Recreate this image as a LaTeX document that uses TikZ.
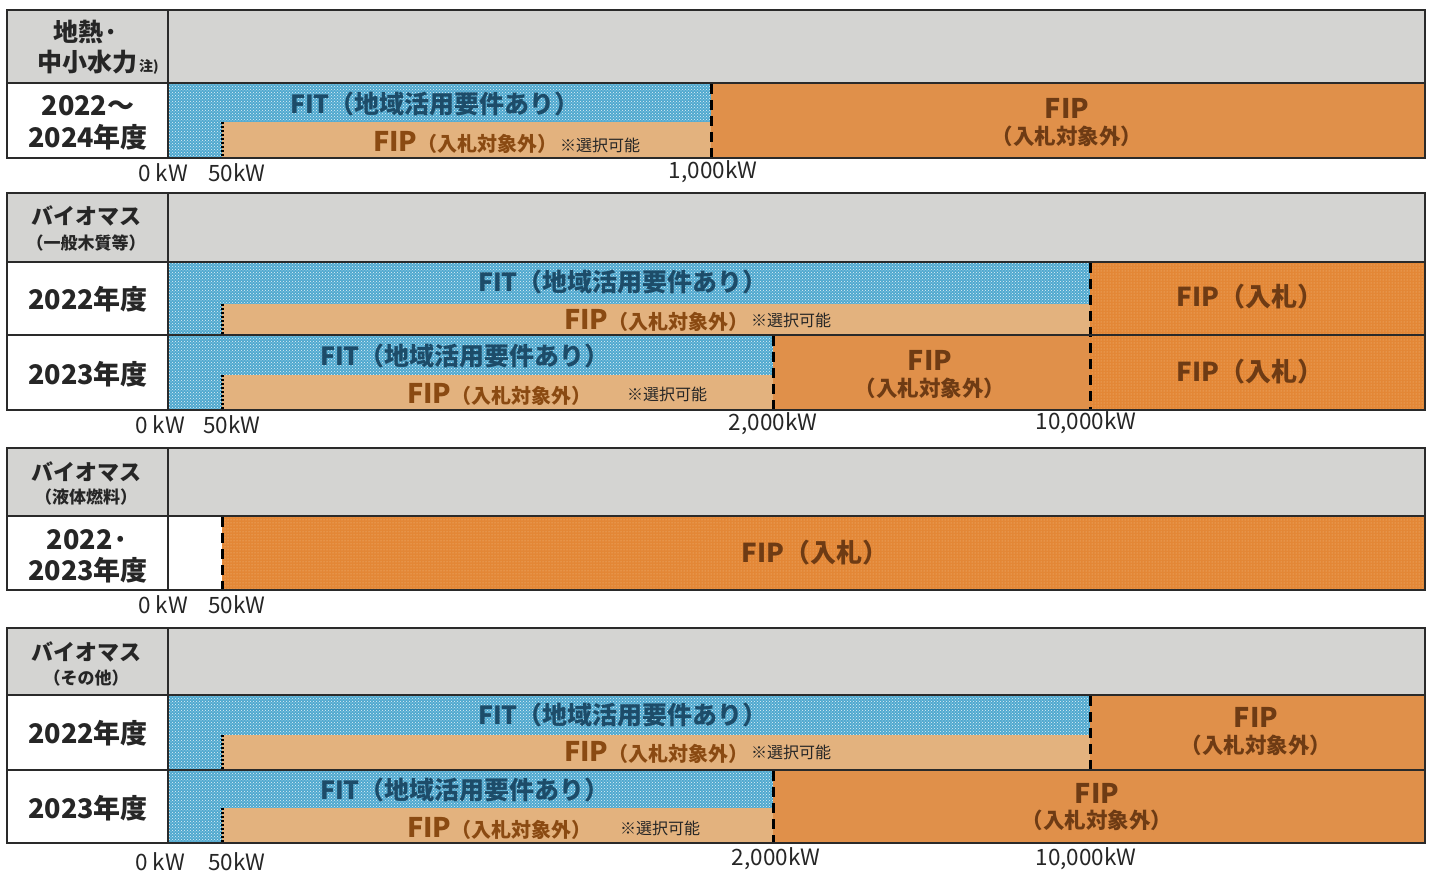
\documentclass[tikz,border=0pt]{standalone}
\usepackage{fontspec}
\newfontfamily\jp{Noto Sans CJK JP}
\usetikzlibrary{patterns}
\definecolor{grayc}{HTML}{D4D4D2}
\definecolor{bluec}{HTML}{4FA8CF}
\definecolor{tanc}{HTML}{E3B27E}
\definecolor{orangec}{HTML}{E0904A}
\definecolor{bidc}{HTML}{E38736}
\definecolor{dotc}{HTML}{F2C08C}
\definecolor{linec}{HTML}{2A2A2A}
\definecolor{fittext}{HTML}{1D4C69}
\definecolor{fiptext}{HTML}{8A4A12}
\definecolor{fipdark}{HTML}{6E3B14}
\definecolor{lbltext}{HTML}{262626}
\tikzset{
  x=1pt,y=-1pt,
  frame/.style={draw=linec, line width=1.5pt},
  hdrbox/.style={fill=grayc},
  fitbox/.style={fill=bluec, postaction={pattern=crosshatch dots, pattern color=white!85!bluec}},
  tanbox/.style={fill=tanc},
  fipbox/.style={fill=orangec},
  bidbox/.style={fill=bidc, postaction={pattern=dots, pattern color=dotc}},
  lbl/.style={font=\jp\bfseries\fontsize{27}{30}\selectfont, text=lbltext, align=center, inner sep=0pt},
  cat/.style={font=\jp\bfseries\fontsize{22}{26}\selectfont, text=lbltext, align=center, inner sep=0pt},
  catbig/.style={font=\jp\bfseries\fontsize{25}{28}\selectfont, text=lbltext, align=center, inner sep=0pt},
  sub/.style={font=\jp\bfseries\fontsize{17}{20}\selectfont, text=lbltext, align=center, inner sep=0pt},
  fitlbl/.style={font=\jp\bfseries\fontsize{25}{28}\selectfont, text=fittext, inner sep=0pt},
  tanlbl/.style={font=\jp\bfseries\fontsize{27}{29}\selectfont, text=fiptext, inner sep=0pt, anchor=west},
  note/.style={font=\jp\fontsize{16}{18}\selectfont, text=lbltext, inner sep=0pt, anchor=west},
  fipbig/.style={font=\jp\bfseries\fontsize{27}{29}\selectfont, text=fipdark, inner sep=0pt},
  fipsub/.style={font=\jp\bfseries\fontsize{21.5}{24}\selectfont, text=fipdark, inner sep=0pt},
  bidlbl/.style={font=\jp\bfseries\fontsize{26}{28}\selectfont, text=fipdark, inner sep=0pt},
  axis/.style={font=\jp\fontsize{22.5}{24}\selectfont, text=lbltext, inner sep=0pt},
  dotline/.style={draw=black, line width=3pt, dash pattern=on 2pt off 2pt},
  dashline/.style={draw=black, line width=3pt, dash pattern=on 10pt off 6pt},
}
\newcommand{\smallpar}[1]{{\fontsize{20}{22}\selectfont #1}}
\begin{document}
\begin{tikzpicture}
\useasboundingbox[fill=white] (0,0) rectangle (1432,874);

% ================= Section 1 =================
\path[hdrbox] (7,10) rectangle (1425,83);
\path[fitbox] (168,83) rectangle (711,158);
\path[tanbox] (222,122) rectangle (711,158);
\path[fipbox] (711,83) rectangle (1425,158);
\draw[dotline] (222,122) -- (222,158);
\draw[dashline] (711,84) -- (711,158);
\draw[frame] (7,10) rectangle (1425,158);
\draw[frame] (7,83) -- (1425,83);
\draw[frame] (168,10) -- (168,158);
\node[catbig] (h1a) at (86,32) {地熱·};
\node[catbig, anchor=west] (h1b) at (37,62) {中小水力\hspace{2pt}{\fontsize{14}{15}\selectfont 注)}};
\node[lbl] (y1a) at (88,106) {2022～};
\node[lbl] (y1b) at (88,137) {2024年度};
\node[fitlbl] (t1) at (435,104) {FIT（地域活用要件あり）};
\node[tanlbl] (p1) at (373,142) {FIP\smallpar{（入札対象外）}};
\node[note] (n1) at (560,145) {※選択可能};
\node[fipbig] (f1a) at (1067,108) {FIP};
\node[fipsub] (f1b) at (1067,136) {（入札対象外）};
\node[axis] (a1a) at (163,173) {0 kW};
\node[axis] (a1b) at (237,173) {50kW};
\node[axis] (a1c) at (713,172) {1,000kW};

% ================= Section 2 =================
\path[hdrbox] (7,193) rectangle (1425,262);
\path[fitbox] (168,262) rectangle (1090,335);
\path[tanbox] (222,304) rectangle (1090,335);
\path[bidbox] (1090,262) rectangle (1425,410);
\path[fitbox] (168,335) rectangle (773,410);
\path[tanbox] (222,375) rectangle (773,410);
\path[fipbox] (773,335) rectangle (1090,410);
\draw[dotline] (222,304) -- (222,335);
\draw[dotline] (222,375) -- (222,410);
\draw[dashline] (1090,263) -- (1090,410);
\draw[dashline] (773,336) -- (773,410);
\draw[frame] (7,193) rectangle (1425,410);
\draw[frame] (7,262) -- (1425,262);
\draw[frame] (7,335) -- (1425,335);
\draw[frame] (168,193) -- (168,410);
\node[cat] (h2a) at (86,216) {バイオマス};
\node[sub] (h2b) at (86,243) {（一般木質等）};
\node[lbl] (y2a) at (88,299) {2022年度};
\node[lbl] (y2b) at (88,374) {2023年度};
\node[fitlbl] (t2a) at (623,282) {FIT（地域活用要件あり）};
\node[tanlbl] (p2a) at (564,320) {FIP\smallpar{（入札対象外）}};
\node[note] (n2a) at (751,320) {※選択可能};
\node[bidlbl] (b2a) at (1250,297) {FIP（入札）};
\node[fitlbl] (t2b) at (465,356) {FIT（地域活用要件あり）};
\node[tanlbl] (p2b) at (407,394) {FIP\smallpar{（入札対象外）}};
\node[note] (n2b) at (627,394) {※選択可能};
\node[fipbig] (f2a) at (930,360) {FIP};
\node[fipsub] (f2b) at (930,388) {（入札対象外）};
\node[bidlbl] (b2b) at (1250,372) {FIP（入札）};
\node[axis] (a2a) at (160,425) {0 kW};
\node[axis] (a2b) at (232,425) {50kW};
\node[axis] (a2c) at (773,424) {2,000kW};
\node[axis] (a2d) at (1086,423) {10,000kW};

% ================= Section 3 =================
\path[hdrbox] (7,448) rectangle (1425,516);
\path[bidbox] (222,516) rectangle (1425,590);
\draw[dashline] (222,517) -- (222,590);
\draw[frame] (7,448) rectangle (1425,590);
\draw[frame] (7,516) -- (1425,516);
\draw[frame] (168,448) -- (168,590);
\node[cat] (h3a) at (86,472) {バイオマス};
\node[sub] (h3b) at (86,497) {（液体燃料）};
\node[lbl] (y3a) at (88,540) {2022·};
\node[lbl] (y3b) at (88,570) {2023年度};
\node[bidlbl] (b3) at (815,553) {FIP（入札）};
\node[axis] (a3a) at (163,605) {0 kW};
\node[axis] (a3b) at (237,605) {50kW};

% ================= Section 4 =================
\path[hdrbox] (7,628) rectangle (1425,695);
\path[fitbox] (168,695) rectangle (1090,770);
\path[tanbox] (222,735) rectangle (1090,770);
\path[fipbox] (1090,695) rectangle (1425,770);
\path[fitbox] (168,770) rectangle (773,843);
\path[tanbox] (222,808) rectangle (773,843);
\path[fipbox] (773,770) rectangle (1425,843);
\draw[dotline] (222,735) -- (222,770);
\draw[dotline] (222,808) -- (222,843);
\draw[dashline] (1090,696) -- (1090,770);
\draw[dashline] (773,771) -- (773,843);
\draw[frame] (7,628) rectangle (1425,843);
\draw[frame] (7,695) -- (1425,695);
\draw[frame] (7,770) -- (1425,770);
\draw[frame] (168,628) -- (168,843);
\node[cat] (h4a) at (86,652) {バイオマス};
\node[sub] (h4b) at (86,678) {（その他）};
\node[lbl] (y4a) at (88,733) {2022年度};
\node[lbl] (y4b) at (88,808) {2023年度};
\node[fitlbl] (t4a) at (623,715) {FIT（地域活用要件あり）};
\node[tanlbl] (p4a) at (564,752) {FIP\smallpar{（入札対象外）}};
\node[note] (n4a) at (751,752) {※選択可能};
\node[fipbig] (f4a) at (1256,717) {FIP};
\node[fipsub] (f4b) at (1256,745) {（入札対象外）};
\node[fitlbl] (t4b) at (465,790) {FIT（地域活用要件あり）};
\node[tanlbl] (p4b) at (407,828) {FIP\smallpar{（入札対象外）}};
\node[note] (n4b) at (620,828) {※選択可能};
\node[fipbig] (f4c) at (1097,793) {FIP};
\node[fipsub] (f4d) at (1097,820) {（入札対象外）};
\node[axis] (a4a) at (160,862) {0 kW};
\node[axis] (a4b) at (237,862) {50kW};
\node[axis] (a4c) at (776,859) {2,000kW};
\node[axis] (a4d) at (1086,859) {10,000kW};
\end{tikzpicture}
\end{document}
